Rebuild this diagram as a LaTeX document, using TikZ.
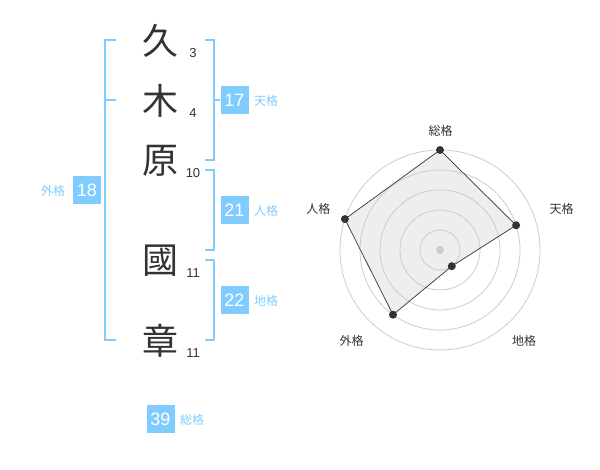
\documentclass[tikz,border=0pt]{standalone}
\usepackage{fontspec}
\setmainfont{Liberation Sans}
\newfontfamily\cjk{Noto Sans CJK JP}
\definecolor{sky}{RGB}{128,204,255}
\definecolor{ink}{RGB}{51,51,51}
\definecolor{ring}{RGB}{204,204,204}
\definecolor{area}{RGB}{238,238,238}
\begin{document}
\begin{tikzpicture}[x=1pt,y=-1pt,
  kanji/.style={font=\cjk\fontsize{36}{36}\selectfont, text=ink, inner sep=0pt},
  strokes/.style={font=\fontsize{13}{13}\selectfont, text=ink, inner sep=0pt},
  valbox/.style={fill=sky, text=white, minimum size=28pt, inner sep=0pt, font=\fontsize{18}{18}\selectfont},
  lab/.style={font=\cjk\fontsize{12}{12}\selectfont, text=sky, inner sep=0pt},
  bracket/.style={draw=sky, line width=2pt},
  axlab/.style={font=\cjk\fontsize{12}{12}\selectfont, text=ink, inner sep=0pt},
  ringline/.style={draw=ring, line width=0.8pt},
  vdot/.style={circle, fill=ink, inner sep=0pt, minimum size=8pt}]
\useasboundingbox (0,0) rectangle (600,470);
% kanji
\node[kanji] (k1) at (160,41) {久};
\node[kanji] (k2) at (160,101) {木};
\node[kanji] (k3) at (160,161) {原};
\node[kanji] (k4) at (160,261) {國};
\node[kanji] (k5) at (160,341) {章};
\node[strokes] (s1) at (193,53) {3};
\node[strokes] (s2) at (193,113) {4};
\node[strokes] (s3) at (193,173) {10};
\node[strokes] (s4) at (193,273) {11};
\node[strokes] (s5) at (193,353) {11};
% left bracket (gaikaku)
\draw[bracket] (116,40) -- (105,40) -- (105,340) -- (116,340);
\draw[bracket] (105,100) -- (116,100);
% right brackets
\draw[bracket] (205,40) -- (214,40) -- (214,160) -- (205,160);
\draw[bracket] (214,100) -- (220,100);
\draw[bracket] (205,170) -- (214,170) -- (214,250) -- (205,250);
\draw[bracket] (205,260) -- (214,260) -- (214,340) -- (205,340);
% value boxes
\node[valbox] (b18) at (87,190) {18};
\node[lab] (l18) at (53,191) {外格};
\node[valbox] (b17) at (234.5,100) {17};
\node[lab] (l17) at (266,101) {天格};
\node[valbox] (b21) at (234.5,210) {21};
\node[lab] (l21) at (266,211) {人格};
\node[valbox] (b22) at (234.5,300) {22};
\node[lab] (l22) at (266,301) {地格};
\node[valbox] (b39) at (160.5,419) {39};
\node[lab] (l39) at (192,420) {総格};
% radar
\coordinate (c) at (440,250);
\coordinate (p1) at (440,150);
\coordinate (p2) at (516.1,225.3);
\coordinate (p3) at (451.8,266.2);
\coordinate (p4) at (393.0,314.7);
\coordinate (p5) at (344.9,219.1);
\fill[area] (p1) -- (p2) -- (p3) -- (p4) -- (p5) -- cycle;
\foreach \r in {20,40,60,80,100} \draw[ringline] (c) circle[radius=\r pt];
\draw[draw=ink, line width=0.7pt, line join=round] (p1) -- (p2) -- (p3) -- (p4) -- (p5) -- cycle;
\node[circle, fill=ring, inner sep=0pt, minimum size=8pt] (cd) at (c) {};
\foreach \p in {p1,p2,p3,p4,p5} \node[vdot] at (\p) {};
\node[axlab] (a1) at (440.7,131) {総格};
\node[axlab] (a2) at (561.7,209) {天格};
\node[axlab] (a3) at (524,341) {地格};
\node[axlab] (a4) at (351.7,341) {外格};
\node[axlab] (a5) at (318.3,209) {人格};
\end{tikzpicture}
\end{document}
